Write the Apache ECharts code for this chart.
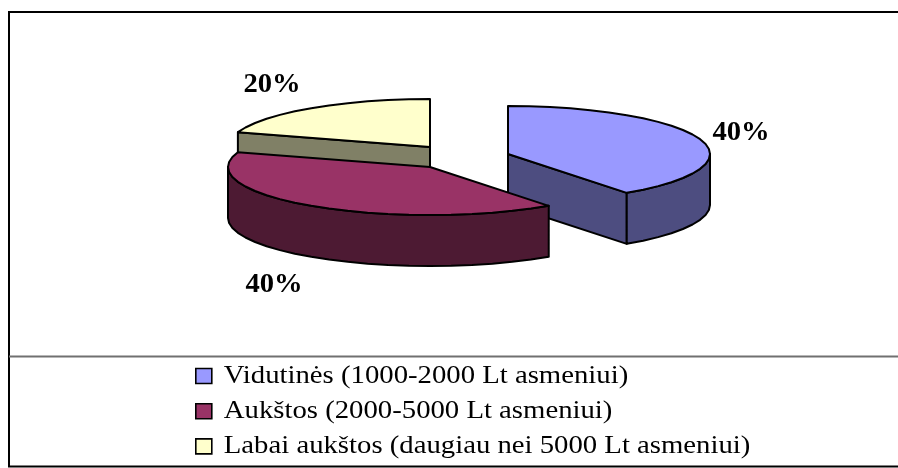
<!DOCTYPE html>
<html><head><meta charset="utf-8">
<script src="https://cdn.jsdelivr.net/npm/echarts@6/dist/echarts.min.js"></script>
<style>html,body{margin:0;padding:0;background:#fff}#c{width:898px;height:468px}</style>
</head><body><div id="c"></div>
<script>
const categories = ['Vidutinės (1000-2000 Lt asmeniui)', 'Aukštos (2000-5000 Lt asmeniui)', 'Labai aukštos (daugiau nei 5000 Lt asmeniui)'];
const shares = [40, 40, 20];
const topColors = ['#9999FF', '#993366', '#FFFFCC'];
const sideColors = ['#4D4D80', '#4D1A33', '#808066'];

// Layout of the exploded tilted pie (not data)
const centers = [[508, 154], [430, 167], [430, 147]];
const labelPos = [[741, 133], [274, 285], [272, 85]];
const RX = 202, RY = 48, DEPTH = 51, STEP = 6;
const total = shares.reduce((a, b) => a + b, 0);
const rad = d => d * Math.PI / 180;

function startAngle(idx) {
  let s = 0;
  for (let i = 0; i < idx; i++) s += shares[i];
  return s / total * 360;
}
function makeRender(idx) {
  return function (params, api) {
    const v = api.value(0);
    const a0 = startAngle(idx), a1 = a0 + v / total * 360;
    const [cx, cy] = centers[idx];
    const pt = (a, dy) => [cx + RX * Math.sin(rad(a)), cy - RY * Math.cos(rad(a)) + (dy || 0)];
    const stroke = { stroke: '#000', lineWidth: 2, lineJoin: 'round' };
    const kids = [];
    const face = (points, fill) => kids.push({ type: 'polygon', shape: { points }, style: Object.assign({ fill }, stroke) });
    const side = sideColors[idx];
    // cut faces
    if (Math.sin(rad(a0)) < -1e-6) face([[cx, cy], pt(a0), pt(a0, DEPTH), [cx, cy + DEPTH]], side);
    if (Math.sin(rad(a1)) > 1e-6) face([[cx, cy], pt(a1), pt(a1, DEPTH), [cx, cy + DEPTH]], side);
    // outer wall
    const r0 = Math.max(a0, 90), r1 = Math.min(a1, 270);
    if (r1 > r0) {
      const up = [], dn = [];
      for (let a = r0; a < r1; a += STEP) { up.push(pt(a)); dn.unshift(pt(a, DEPTH)); }
      up.push(pt(r1)); dn.unshift(pt(r1, DEPTH));
      face(up.concat(dn), side);
    }
    // top
    const top = [[cx, cy]];
    for (let a = a0; a < a1; a += STEP) top.push(pt(a));
    top.push(pt(a1));
    face(top, topColors[idx]);
    // value label
    kids.push({
      type: 'text', x: labelPos[idx][0], y: labelPos[idx][1], scaleX: 1.06, z2: 10,
      style: { text: v + '%', fill: '#000', font: 'bold 27px "Liberation Serif"', align: 'center', verticalAlign: 'middle' }
    });
    return { type: 'group', children: kids };
  };
}
// paint back-to-front: blue, yellow, maroon
const paintOrder = [0, 2, 1];
const chart = echarts.init(document.getElementById('c'), null, { renderer: 'canvas' });
chart.setOption({
  animation: false,
  backgroundColor: '#fff',
  legend: {
    orient: 'vertical', left: 195, top: 363, height: 200, padding: 0, itemWidth: 16, itemHeight: 15, itemGap: 9.2, selectedMode: false,
    icon: 'rect', data: categories,
    itemStyle: { borderColor: '#000', borderWidth: 1.6 },
    textStyle: { fontFamily: '"Liberation Serif"', fontSize: 26, color: '#000', padding: [0, 0, 0, 7], lineHeight: 23 }
  },
  graphic: [
    { type: 'polyline', shape: { points: [[898, 12], [9, 12], [9, 466.5], [898, 466.5]] }, style: { fill: 'none', stroke: '#000', lineWidth: 2 }, z: 100 },
    { type: 'line', shape: { x1: 9, y1: 356.5, x2: 898, y2: 356.5 }, style: { stroke: '#707070', lineWidth: 2 }, z: 100 }
  ],
  series: paintOrder.map(i => ({
    type: 'custom', name: categories[i], coordinateSystem: 'none', silent: true,
    itemStyle: { color: topColors[i] },
    data: [shares[i]], renderItem: makeRender(i)
  }))
});
// The reference's legend text is horizontally stretched; widen the legend's own text.
const LEGEND_STRETCH = 1.105;
chart.getZr().storage.getDisplayList(true).forEach(el => {
  if (el.style && categories.includes(el.style.text)) {
    el.originX = el.style.x || 0;
    el.scaleX = LEGEND_STRETCH;
    el.markRedraw();
  }
});
chart.getZr().refreshImmediately();
</script></body></html>
